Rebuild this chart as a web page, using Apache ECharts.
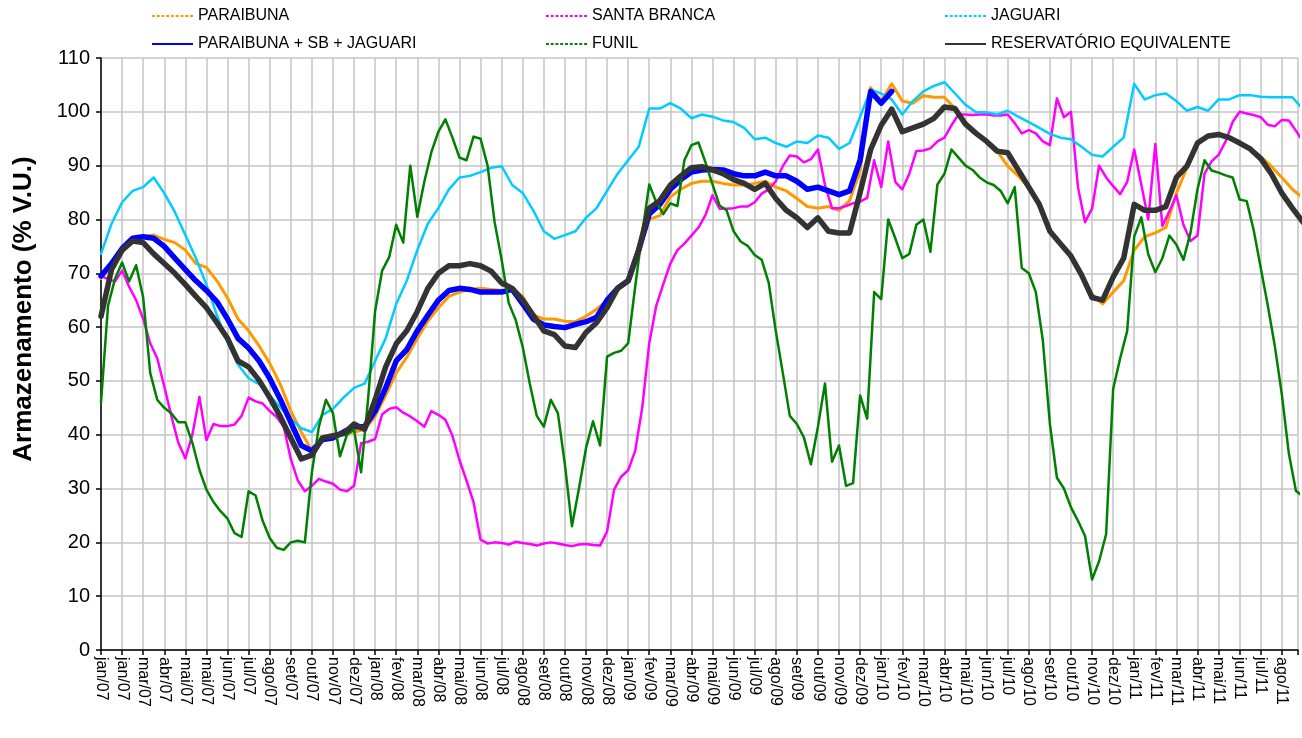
<!DOCTYPE html>
<html>
<head>
<meta charset="utf-8">
<title>Armazenamento</title>
<script src="https://cdn.jsdelivr.net/npm/echarts@6/dist/echarts.min.js"></script>
<style>
  html, body { margin: 0; padding: 0; background: #fff; }
  #chart { width: 1302px; height: 738px; }
</style>
</head>
<body>
<div id="chart"></div>
<script>
// rótulos do eixo x, um a cada 30 dias a partir de 01/jan/2007
const xLabels = ['jan/07', 'jan/07', 'mar/07', 'abr/07', 'mai/07', 'mai/07', 'jun/07', 'jul/07', 'ago/07', 'set/07',
  'out/07', 'nov/07', 'dez/07', 'jan/08', 'fev/08', 'mar/08', 'abr/08', 'mai/08', 'jun/08', 'jul/08',
  'ago/08', 'set/08', 'out/08', 'nov/08', 'dez/08', 'jan/09', 'fev/09', 'mar/09', 'abr/09', 'mai/09',
  'jun/09', 'jul/09', 'ago/09', 'set/09', 'out/09', 'nov/09', 'dez/09', 'jan/10', 'fev/10', 'mar/10',
  'abr/10', 'mai/10', 'jun/10', 'jul/10', 'ago/10', 'set/10', 'out/10', 'nov/10', 'dez/10', 'jan/11',
  'fev/11', 'mar/11', 'abr/11', 'mai/11', 'jun/11', 'jul/11', 'ago/11']
const lastDay = 1703

// valores a cada 15 dias (% V.U.)
const paraibuna = [
  69, 72, 74, 75.7, 76.8, 77.1, 76.3, 75.7, 74.3, 71.8,
  71.1, 68.6, 65.4, 61.5, 59.3, 56.5, 53.3, 49.4, 44.4, 40.5,
  37, 39, 39.5, 40.2, 40.5, 41, 43.4, 47.3, 51.5, 54.4,
  57.9, 61.1, 63.6, 65.7, 66.5, 67, 67.2, 67, 66.8, 67,
  65.7, 62.2, 61.5, 61.5, 61.1, 61, 62, 63.3, 65, 67.2,
  68.6, 74, 80, 80.7, 84.2, 85.6, 86.7, 87.1, 87.1, 86.7,
  86.4, 86.4, 86.7, 87.1, 86, 85.3, 83.9, 82.4, 82.1, 82.4,
  81.7, 83.5, 89, 104.5, 102, 105.2, 102, 101.6, 103, 102.7,
  102.7, 100.6, 98.1, 96, 94.5, 92.7, 89.9, 88.1, 86, 82.8,
  77.8, 75.5, 73.2, 69.7, 66.1, 64.3, 66.5, 68.6, 74.3, 76.8,
  77.5, 78.5, 84.9, 89.6, 94.5, 95.5, 95.8, 95.2, 94.2, 93.1,
  91.7, 89.9, 87.8, 85.6, 84
]
const jaguari = [
  73.6, 79.2, 83.2, 85.3, 86, 87.8, 84.9, 81.4, 77.1, 72.8,
  67.9, 62.2, 57.2, 53, 50.5, 49.4, 47.3, 45.1, 43, 41.2,
  40.5, 43.7, 44.8, 46.9, 48.7, 49.5, 53.7, 57.9, 64.3, 68.6,
  74.3, 79.2, 82.1, 85.6, 87.8, 88.1, 88.8, 89.6, 89.9, 86.4,
  84.9, 81.7, 77.8, 76.4, 77.1, 77.8, 80.3, 82.1, 85.3, 88.5,
  91, 93.5, 100.6, 100.6, 101.6, 100.6, 98.8, 99.5, 99.1, 98.4,
  98.1, 97, 94.9, 95.2, 94.2, 93.5, 94.5, 94.2, 95.6, 95.2,
  93.1, 94.2, 99.1, 104.1, 103.4, 102.3, 99.5, 102, 103.8, 104.8,
  105.5, 103.4, 101.3, 99.9, 99.9, 99.5, 100.2, 99.1, 98.1, 97,
  95.9, 95.2, 94.9, 93.5, 92, 91.7, 93.5, 95.2, 105.2, 102.3,
  103.1, 103.4, 102, 100.2, 100.9, 100.2, 102.3, 102.3, 103.1, 103.1,
  102.8, 102.7, 102.7, 102.7, 100.5
]
const somaPSBJ = [
  69.5, 71.8, 74.6, 76.5, 76.8, 76.5, 75, 72.8, 70.7, 68.6,
  66.8, 64.7, 61.5, 57.9, 56.1, 53.7, 50.5, 46.6, 42.3, 38,
  37, 39.1, 39.4, 40.5, 41.5, 41.5, 44.4, 48.7, 53.7, 55.8,
  59.3, 62.2, 65, 66.8, 67.2, 67, 66.5, 66.5, 66.5, 67,
  64.3, 61.5, 60.4, 60.1, 59.9, 60.5, 61, 61.8, 65, 67.2,
  68.6, 74.3, 81, 82.8, 85.6, 87.4, 88.8, 89.2, 89.3, 89.2,
  88.5, 88.1, 88.1, 88.8, 88.1, 88.1, 87.1, 85.6, 86, 85.3,
  84.6, 85.3, 91, 103.8, 101.6, 103.8
]
const equivalente = [
  62, 70.7, 74.3, 76, 75.7, 73.6, 71.8, 70, 67.9, 65.7,
  63.6, 60.8, 57.9, 53.7, 52.6, 50.1, 46.9, 43.4, 39.4, 35.5,
  36.2, 39.4, 39.8, 40.2, 42, 41, 46.5, 52.6, 56.9, 59.3,
  62.9, 67.2, 70, 71.4, 71.4, 71.8, 71.4, 70.4, 68.2, 67.2,
  65, 62.2, 59.3, 58.6, 56.5, 56.2, 59, 60.8, 63.6, 67.2,
  68.6, 74.3, 82.1, 83.5, 86.4, 88.1, 89.6, 89.8, 89.2, 88.5,
  87.4, 86.7, 85.6, 86.7, 83.9, 81.7, 80.3, 78.5, 80.3, 77.8,
  77.5, 77.5, 85, 93, 97.5, 100.5, 96.3, 97, 97.7, 98.8,
  100.9, 100.6, 97.7, 96, 94.5, 92.7, 92.4, 89.2, 86, 82.8,
  77.8, 75.5, 73.2, 69.7, 65.5, 65, 69.3, 72.8, 82.8, 81.7,
  81.7, 82.4, 87.8, 89.9, 94.2, 95.5, 95.8, 95.2, 94.2, 93.1,
  91.3, 88.5, 84.9, 82.1, 79.5
]

// valores a cada 10 dias (séries mais irregulares)
const santaBranca = [
  69.5, 68.9, 68.5, 70.5, 67.5, 65, 61.5, 57, 54.2, 49,
  43.5, 38.5, 35.6, 40, 47, 39, 42, 41.6, 41.6, 41.9,
  43.5, 46.9, 46.2, 45.8, 44.4, 43.3, 41.5, 35.5, 31.5, 29.5,
  30.5, 31.8, 31.3, 30.9, 29.8, 29.5, 30.5, 38.4, 38.7, 39.2,
  43.8, 44.8, 45.1, 44.1, 43.4, 42.5, 41.5, 44.4, 43.7, 42.8,
  39.8, 35.3, 31.5, 27.5, 20.5, 19.8, 20, 19.9, 19.6, 20.1,
  19.9, 19.7, 19.4, 19.8, 20, 19.8, 19.5, 19.3, 19.6, 19.7,
  19.5, 19.4, 22, 29.8, 32.2, 33.4, 37, 45, 57, 64,
  68, 71.8, 74.3, 75.5, 77, 78.5, 80.8, 84.5, 82, 82,
  82.1, 82.4, 82.4, 83.2, 84.8, 85.6, 87.1, 89.9, 91.9, 91.7,
  90.6, 91.2, 93, 86.4, 82.1, 82.1, 82.5, 83, 83.3, 84,
  91, 86, 94.5, 87, 85.6, 88.5, 92.7, 92.8, 93.2, 94.5,
  95.2, 97.5, 99.5, 99.5, 99.4, 99.5, 99.5, 99.3, 99.3, 99.5,
  97.9, 96, 96.6, 96, 94.5, 93.8, 102.5, 99, 100, 86,
  79.5, 82, 90, 87.8, 86.2, 84.7, 87, 93, 86.5, 80,
  94, 78.8, 81.5, 84.5, 79, 76, 77, 88.5, 90.8, 92,
  94.5, 98.1, 100, 99.7, 99.4, 99, 97.6, 97.3, 98.5, 98.4,
  96.5, 94.5
]
const funil = [
  46, 64, 69, 72, 68.5, 71.5, 65.5, 51.5, 46.5, 45,
  44, 42.3, 42.3, 38.5, 33.5, 29.8, 27.5, 25.8, 24.4, 21.7,
  21, 29.5, 28.7, 24, 20.8, 19, 18.6, 20, 20.3, 20,
  33, 41.5, 46.5, 44, 36, 40, 41, 33, 46.6, 63,
  70.5, 73, 79, 75.7, 90, 80.5, 87, 92.5, 96.3, 98.6,
  95.2, 91.5, 91, 95.4, 95, 90, 79.5, 72.5, 64.5, 61.3,
  56.3, 49.5, 43.5, 41.5, 46.5, 44, 34.5, 23, 30, 37.5,
  42.5, 38, 54.5, 55.2, 55.6, 57, 67.5, 77.5, 86.5, 83.2,
  81, 83, 82.5, 91, 93.8, 94.3, 90.6, 86.5, 82.6, 81.7,
  77.8, 75.9, 75.1, 73.4, 72.5, 68.2, 59.3, 51.5, 43.5, 42,
  39.5, 34.5, 41.5, 49.5, 35, 38, 30.5, 31, 47.3, 43,
  66.5, 65.2, 80, 76.5, 72.8, 73.6, 79, 80, 74, 86.5,
  88.5, 93, 91.5, 90, 89.2, 87.8, 86.9, 86.4, 85.3, 83,
  86, 71, 70, 66.5, 57.5, 42, 32, 30, 26.5, 24,
  21.2, 13.1, 16.5, 21.5, 48.5, 54.2, 59.3, 76.8, 80.4, 73.5,
  70.2, 72.8, 77, 75.3, 72.5, 77.5, 85.6, 91, 89.1, 88.7,
  88.2, 87.8, 83.7, 83.4, 78, 71, 64, 56.5, 47.5, 36.5,
  29.6, 28.5
]

// [dia, valor]
function toPairs(values, step) {
  return values.map((v, i) => [i * step, v])
}

const font = 'Liberation Sans, Arial, sans-serif'
const chart = echarts.init(document.getElementById('chart'))

function makeSeries(name, color, width, values, step, z) {
  return {
    name: name,
    type: 'line',
    symbol: 'none',
    z: z,
    lineStyle: { color: color, width: width, join: 'round', cap: 'round' },
    itemStyle: { color: color },
    data: toPairs(values, step)
  }
}

// ícones da legenda: traço tracejado ou linha cheia
let dashPath = 'path://'
for (let x = 0; x < 41; x += 5) {
  dashPath += 'M' + x + ' 0h3v2h-3z'
}
const solidPath = 'path://M0 0h41v2h-41z'

function legendBox(left, items) {
  return {
    orient: 'vertical',
    left: left,
    top: 8,
    padding: 0,
    itemWidth: 41,
    itemHeight: 14,
    itemGap: 12,
    itemTextGap: 8,
    symbolKeepAspect: true,
    selectedMode: false,
    textStyle: { color: '#000', fontSize: 16, fontFamily: font },
    data: items
  }
}

chart.setOption({
  animation: false,
  backgroundColor: '#fff',
  legend: [
    legendBox(152, [
      { name: 'PARAIBUNA', icon: dashPath },
      { name: 'PARAIBUNA + SB + JAGUARI', icon: solidPath }
    ]),
    legendBox(546, [
      { name: 'SANTA BRANCA', icon: dashPath },
      { name: 'FUNIL', icon: dashPath }
    ]),
    legendBox(945, [
      { name: 'JAGUARI', icon: dashPath },
      { name: 'RESERVATÓRIO EQUIVALENTE', icon: solidPath }
    ])
  ],
  grid: { left: 101, right: 4, top: 58, bottom: 88 },
  graphic: [{
    type: 'text',
    x: 24,
    y: 309,
    rotation: Math.PI / 2,
    style: {
      text: 'Armazenamento (% V.U.)',
      fill: '#000',
      font: 'bold 26px ' + font,
      align: 'center',
      verticalAlign: 'middle'
    }
  }],
  xAxis: {
    type: 'value',
    min: 0,
    max: lastDay,
    interval: 30,
    axisLine: { show: true, onZero: false, lineStyle: { color: '#000', width: 1.5 } },
    axisTick: { show: true, length: 5, lineStyle: { color: '#000', width: 1.5 } },
    axisLabel: {
      rotate: -90,
      margin: 7,
      color: '#000',
      fontSize: 16,
      fontFamily: font,
      showMaxLabel: true,
      formatter: function (value) {
        const idx = value / 30
        return Number.isInteger(idx) && idx < xLabels.length ? xLabels[idx] : ''
      }
    },
    splitLine: { show: true, lineStyle: { color: '#c4c4c4', width: 1.5 } }
  },
  yAxis: {
    type: 'value',
    min: 0,
    max: 110,
    interval: 10,
    axisLine: { show: true, lineStyle: { color: '#000', width: 1.5 } },
    axisTick: { show: true, length: 5, lineStyle: { color: '#000', width: 1.5 } },
    axisLabel: { color: '#000', fontSize: 20, fontFamily: font, margin: 11 },
    splitLine: { show: true, lineStyle: { color: '#c4c4c4', width: 1.5 } }
  },
  series: [
    makeSeries('PARAIBUNA', '#ff9900', 3, paraibuna, 15, 2),
    makeSeries('SANTA BRANCA', '#ff00ff', 2.5, santaBranca, 10, 3),
    makeSeries('JAGUARI', '#00ccff', 2.5, jaguari, 15, 4),
    makeSeries('PARAIBUNA + SB + JAGUARI', '#0000ff', 5.5, somaPSBJ, 15, 5),
    makeSeries('FUNIL', '#008000', 2.5, funil, 10, 6),
    makeSeries('RESERVATÓRIO EQUIVALENTE', '#333333', 5.5, equivalente, 15, 7)
  ]
})
</script>
</body>
</html>
